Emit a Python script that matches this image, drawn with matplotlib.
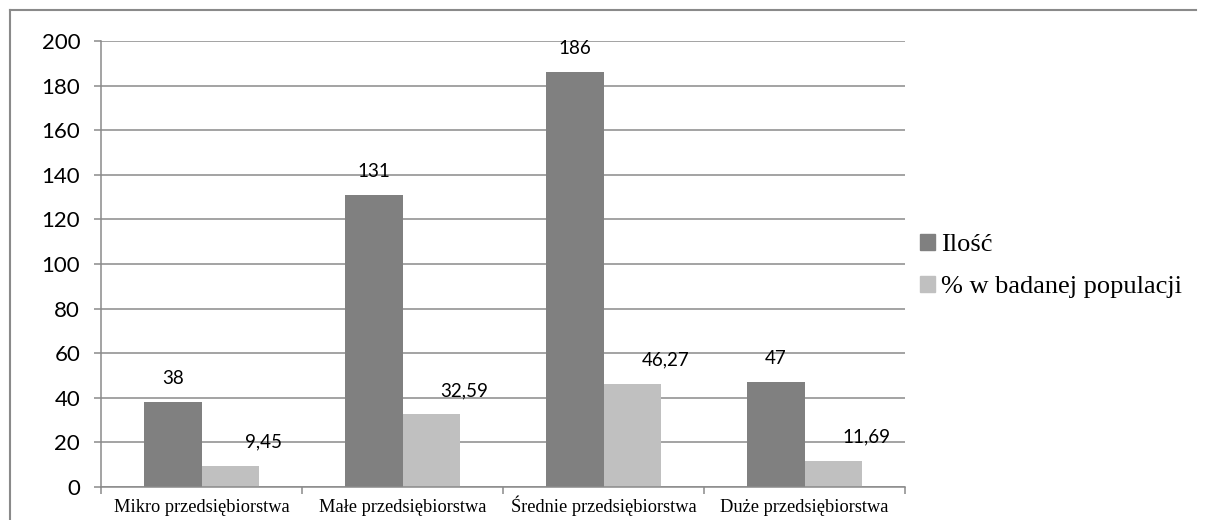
import numpy as np
import matplotlib.pyplot as plt
from matplotlib.patches import Patch
from matplotlib.lines import Line2D

# company size groups
categories = [
    "Mikro przedsiębiorstwa",
    "Małe przedsiębiorstwa",
    "Średnie przedsiębiorstwa",
    "Duże przedsiębiorstwa",
]
ilosc = [38, 131, 186, 47]
procent = [9.45, 32.59, 46.27, 11.69]
series_names = ["Ilość", "% w badanej populacji"]
y_ticks = [0, 20, 40, 60, 80, 100, 120, 140, 160, 180, 200]

palette = {"dark": "#808080", "light": "#c0c0c0", "grid": "#8a8a8a"}
NumFont = "Lato"
TextFont = "Liberation Serif"

W, H = 1206, 520
fig = plt.figure(figsize=(W / 100, H / 100), dpi=100)
ax = fig.add_axes([101 / W, 1 - 487 / H, (905 - 101) / W, (487 - 41) / H])

x = np.arange(len(categories))
bar_w = 0.284

ax.bar(x - bar_w / 2, ilosc, width=bar_w, color=palette["dark"], zorder=3)
ax.bar(x + bar_w / 2, procent, width=bar_w, color=palette["light"], zorder=3)


def fmt(v):
    # decimal comma
    return f"{v:g}".replace(".", ",")


for xi, v in zip(x, ilosc):
    ax.annotate(fmt(v), xy=(xi - bar_w / 2, v), xytext=(0, 17),
                textcoords="offset points", ha="center", va="center",
                fontname=NumFont, fontsize=13.5, zorder=5)
for xi, v in zip(x, procent):
    ax.annotate(fmt(v), xy=(xi + bar_w / 2, v), xytext=(24, 17),
                textcoords="offset points", ha="center", va="center",
                fontname=NumFont, fontsize=13.5, zorder=5)

ax.set_xlim(-0.5, len(categories) - 0.5)
ax.set_ylim(0, 200)

# y axis: gray gridlines, outward ticks
ax.set_yticks(y_ticks)
ax.set_yticklabels([str(t) for t in y_ticks], fontname=NumFont, fontsize=16)
ax.yaxis.grid(True, color=palette["grid"], lw=1.1, zorder=0)
ax.tick_params(axis="y", length=5, width=1.1, color=palette["grid"], pad=10)

# x axis: ticks between groups, labels at group centers
ax.set_xticks(np.arange(len(categories) + 1) - 0.5)
ax.set_xticklabels([])
ax.tick_params(axis="x", which="major", length=5, width=1.1,
               color=palette["grid"])
ax.set_xticks(x, minor=True)
ax.set_xticklabels(categories, minor=True, fontname=TextFont, fontsize=13.2)
ax.tick_params(axis="x", which="minor", length=0, pad=18)
for lbl in ax.get_xticklabels(minor=True):
    lbl.set_verticalalignment("baseline")

for side in ["top", "right"]:
    ax.spines[side].set_visible(False)
for side in ["left", "bottom"]:
    ax.spines[side].set_color(palette["grid"])
    ax.spines[side].set_linewidth(1.1)
    ax.spines[side].set_zorder(4)

handles = [Patch(color=palette["dark"]), Patch(color=palette["light"])]
fig.legend(handles, series_names, loc="center left",
           bbox_to_anchor=(920 / W, 1 - 266 / H), frameon=False,
           prop={"family": TextFont, "size": 19},
           handlelength=0.55, handleheight=0.55, handletextpad=0.25,
           labelspacing=0.75, borderpad=0, borderaxespad=0)

# chart area border (top and left edges)
fig.add_artist(Line2D([10 / W, 10 / W], [0, 1 - 10 / H],
                      color=palette["grid"], lw=1.5))
fig.add_artist(Line2D([10 / W, 1196 / W], [1 - 10 / H, 1 - 10 / H],
                      color=palette["grid"], lw=1.5))

fig.savefig("out.png", dpi=100)
